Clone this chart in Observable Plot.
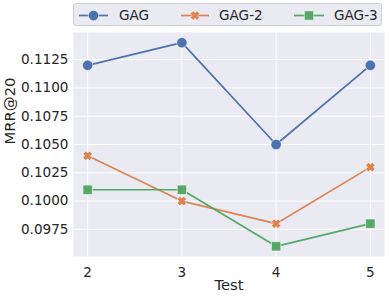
<!DOCTYPE html>
<html><head><meta charset="utf-8">
<script src="https://cdn.jsdelivr.net/npm/d3@7"></script>
<script src="https://cdn.jsdelivr.net/npm/@observablehq/plot@0.6"></script>
<style>
html,body{margin:0;padding:0;background:#fff;}
#wrap{position:relative;width:390px;height:296px;font-family:"DejaVu Sans",sans-serif;color:#262626;}
#legend{position:absolute;z-index:5;left:73px;top:3px;width:309px;height:23px;border:1px solid #cfcfd6;border-radius:3px;background:#eaeaf2;box-sizing:border-box;}
#legend svg{position:absolute;left:0;top:0;}
.lt{position:absolute;font-size:13.6px;top:3px;line-height:16px;}
</style></head>
<body><div id="wrap"><div id="legend"></div></div>
<script>
const tests = [2, 3, 4, 5];
const seriesNames = ["GAG", "GAG-2", "GAG-3"];
const gag  = [0.112, 0.114, 0.105, 0.112];
const gag2 = [0.104, 0.100, 0.098, 0.103];
const gag3 = [0.101, 0.101, 0.096, 0.098];
const yTicks = [0.0975, 0.1000, 0.1025, 0.1050, 0.1075, 0.1100, 0.1125];
const colors = ["#4c72b0", "#dd8452", "#55a868"];

const xSymbol = {
  draw(ctx, size) {
    const r = Math.sqrt(size / Math.PI) * 0.92;
    const t = r * 0.6;
    const pts = [[0,-t],[r-t,-r],[r,-(r-t)],[t,0],[r,r-t],[r-t,r],[0,t],[-(r-t),r],[-r,r-t],[-t,0],[-r,-(r-t)],[-(r-t),-r]];
    ctx.moveTo(pts[0][0], pts[0][1]);
    for (let i = 1; i < pts.length; i++) ctx.lineTo(pts[i][0], pts[i][1]);
    ctx.closePath();
  }
};
const sqSymbol = {
  draw(ctx, size) {
    const h = Math.sqrt(size / Math.PI) * 0.9;
    ctx.moveTo(-h,-h); ctx.lineTo(h,-h); ctx.lineTo(h,h); ctx.lineTo(-h,h); ctx.closePath();
  }
};
const symbols = [d3.symbolCircle, xSymbol, sqSymbol];

const vals = [gag, gag2, gag3];
const data = [];
seriesNames.forEach((s, i) => tests.forEach((t, j) => data.push({series: s, test: t, v: vals[i][j]})));

const marks = [
  Plot.frame({fill: "#eaeaf2", stroke: null}),
  Plot.gridX(tests, {stroke: "#fff", strokeOpacity: 1, strokeWidth: 1}),
  Plot.gridY(yTicks, {stroke: "#fff", strokeOpacity: 1, strokeWidth: 1}),
  Plot.axisX(tests, {tickSize: 0, tickPadding: 11, fontSize: 13.6, fill: "#262626", label: null, tickFormat: d => String(d)}),
  Plot.axisY(yTicks, {tickSize: 0, tickPadding: 5, fontSize: 13.6, fill: "#262626", label: null, tickFormat: d => d.toFixed(4)}),
  Plot.text(["Test"], {frameAnchor: "bottom", dy: 33, fontSize: 14.8, fill: "#262626"}),
  Plot.text(["MRR@20"], {frameAnchor: "left", dx: -63, rotate: -90, fontSize: 14.8, fill: "#262626"})
];
seriesNames.forEach((s, i) => {
  const d = data.filter(r => r.series === s);
  marks.push(Plot.line(d, {x: "test", y: "v", stroke: colors[i], strokeWidth: 1.7}));
});
seriesNames.forEach((s, i) => {
  const d = data.filter(r => r.series === s);
  marks.push(Plot.dot(d, {x: "test", y: "v", r: 5.2, symbol: symbols[i], fill: colors[i], stroke: "#fff", strokeWidth: 0.6}));
});

const chart = Plot.plot({
  width: 390, height: 296,
  marginLeft: 73, marginRight: 6, marginTop: 32, marginBottom: 40,
  style: {fontFamily: "DejaVu Sans, sans-serif", background: "#fff", overflow: "visible"},
  x: {domain: [1.85, 5.15]},
  y: {domain: [0.0951, 0.1149]},
  marks
});
chart.style.position = "absolute";
chart.style.left = "0"; chart.style.top = "0";
document.getElementById("wrap").appendChild(chart);

// legend
const leg = document.getElementById("legend");
const ns = "http://www.w3.org/2000/svg";
const lsvg = document.createElementNS(ns, "svg");
lsvg.setAttribute("width", 309); lsvg.setAttribute("height", 23);
leg.appendChild(lsvg);
const lineX = [[5, 34], [107, 135], [220, 250]];
const textX = [45, 145, 260];
seriesNames.forEach((s, i) => {
  const l = document.createElementNS(ns, "line");
  l.setAttribute("x1", lineX[i][0]); l.setAttribute("x2", lineX[i][1]);
  l.setAttribute("y1", 11.5); l.setAttribute("y2", 11.5);
  l.setAttribute("stroke", colors[i]); l.setAttribute("stroke-width", 1.7);
  lsvg.appendChild(l);
  const p = document.createElementNS(ns, "path");
  p.setAttribute("d", d3.symbol(symbols[i], Math.PI * 5.2 * 5.2)());
  p.setAttribute("transform", `translate(${(lineX[i][0] + lineX[i][1]) / 2},11.5)`);
  p.setAttribute("fill", colors[i]); p.setAttribute("stroke", "#fff"); p.setAttribute("stroke-width", 0.6);
  lsvg.appendChild(p);
  const t = document.createElement("div");
  t.className = "lt"; t.style.left = textX[i] + "px"; t.textContent = s;
  leg.appendChild(t);
});
</script></body></html>
